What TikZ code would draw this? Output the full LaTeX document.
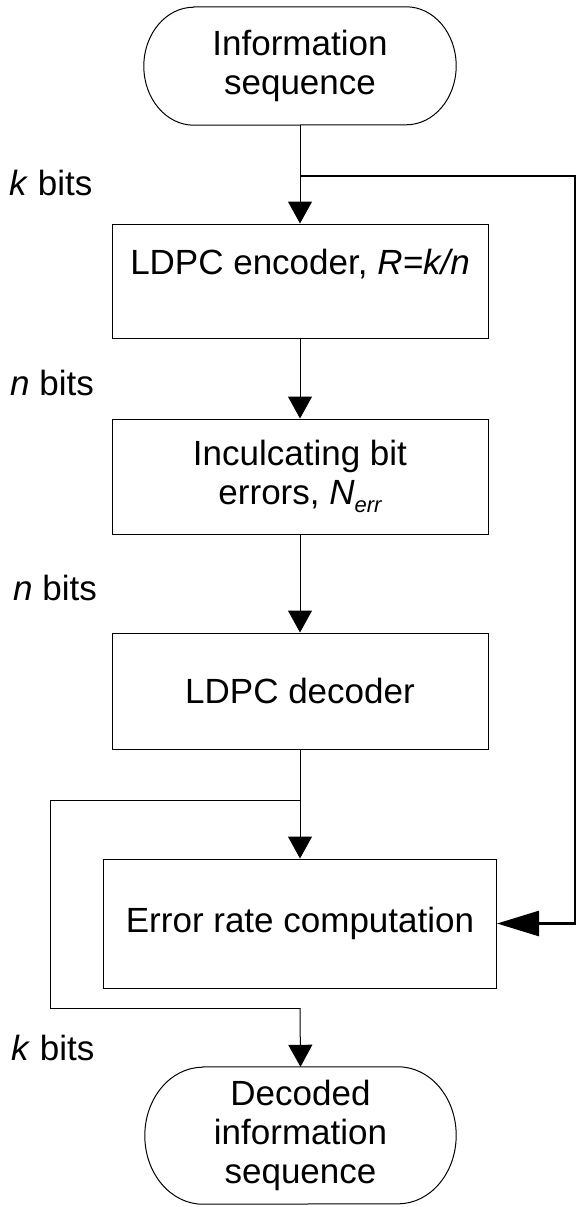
\documentclass[tikz,border=0pt]{standalone}
\usepackage{fontspec}
\setmainfont{Liberation Sans}
\usetikzlibrary{arrows.meta}
\begin{document}
\begin{tikzpicture}[x=1pt,y=1pt,
  txt/.style={font=\fontsize{35}{39}\selectfont},
  box/.style={txt, draw, line width=1pt, minimum width=376pt, inner sep=0pt, align=center},
  term/.style={txt, inner sep=0pt, align=center},
  lbl/.style={txt, anchor=west, inner sep=0pt},
  conn/.style={line width=1pt},
  arr/.style={conn, -{Triangle[length=22pt,width=24pt]}},
  bigarr/.style={line width=2.6pt, -{Triangle[length=42pt,width=25pt]}}]
\useasboundingbox (0,0) rectangle (577,-1207);

% terminals
\node[term, minimum width=312pt, minimum height=118pt] (src) at (300,-66) {Information\\sequence};
\draw[conn] ([xshift=50pt]src.north west) -- ([xshift=-50pt]src.north east)
  arc[start angle=90,end angle=-90,x radius=50pt,y radius=59pt]
  -- ([xshift=50pt]src.south west)
  arc[start angle=270,end angle=90,x radius=50pt,y radius=59pt] -- cycle;

\node[term, minimum width=311pt, minimum height=137pt] (dst) at (300.5,-1135.5) {Decoded\\information\\sequence};
\draw[conn] ([xshift=58pt]dst.north west) -- ([xshift=-58pt]dst.north east)
  arc[start angle=90,end angle=-90,x radius=58pt,y radius=68.5pt]
  -- ([xshift=58pt]dst.south west)
  arc[start angle=270,end angle=90,x radius=58pt,y radius=68.5pt] -- cycle;

% process boxes
\node[box, minimum height=114pt] (enc) at (300,-281) {LDPC encoder, \textit{R=k/n}\\\mbox{}};
\node[box, minimum height=115pt] (inc) at (300,-476.5) {Inculcating bit\\errors, \textit{N}\raisebox{-0.22em}{\fontsize{22}{22}\selectfont\itshape err}};
\node[box, minimum height=116pt] (dec) at (300,-691) {LDPC decoder};
\node[box, minimum width=393pt, minimum height=129pt] (err) at (300,-923.5) {Error rate computation};

% labels
\node[lbl] (lk1) at (9,-183) {\textit{k} bits};
\node[lbl] (ln1) at (10,-383) {\textit{n} bits};
\node[lbl] (ln2) at (13,-588) {\textit{n} bits};
\node[lbl] (lk2) at (11,-1048) {\textit{k} bits};

% connectors
\draw[arr] (src.south) -- (enc.north);
\draw[arr] (enc.south) -- (inc.north);
\draw[arr] (inc.south) -- (dec.north);
\draw[arr] (dec.south) -- (err.north);

\coordinate (b1) at (300,-176);
\coordinate (r1) at (575,-176);
\draw[bigarr] (b1) -- (r1) |- (err.east);

\coordinate (b2) at (300,-800);
\coordinate (l2) at (50,-800);
\coordinate (l3) at (50,-1008);
\coordinate (b3) at (300,-1008);
\draw[conn] (b2) -- (l2) -- (l3) -- (b3);
\draw[arr] (b3) -- (dst.north);
\end{tikzpicture}
\end{document}
